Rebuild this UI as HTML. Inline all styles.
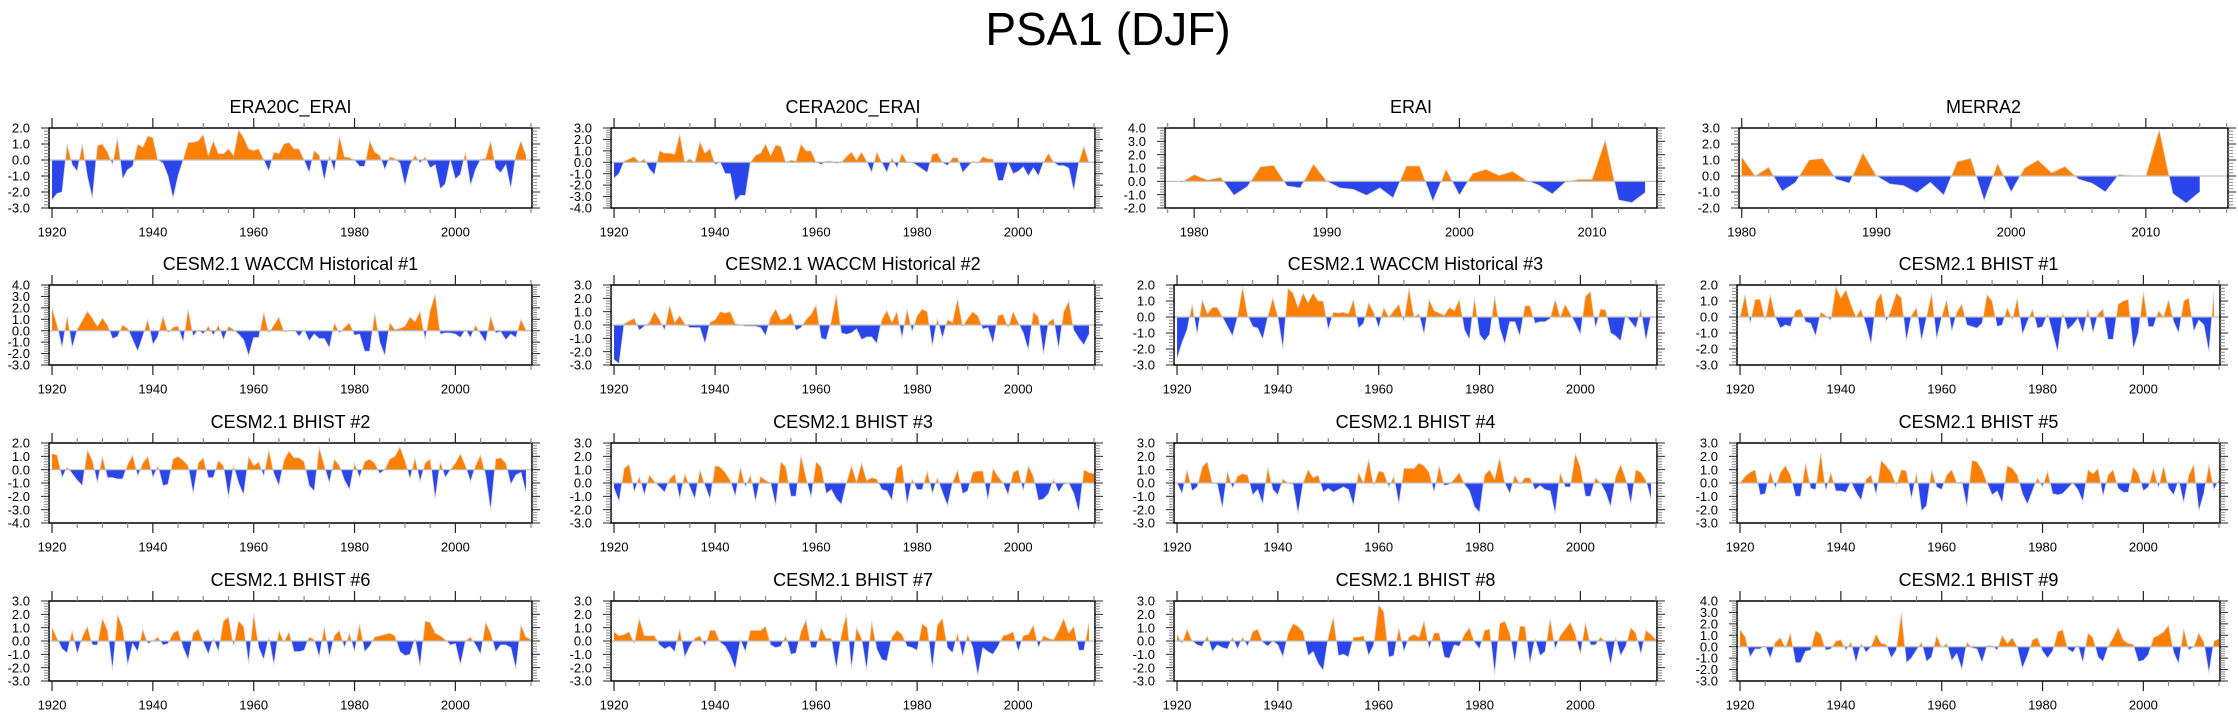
<!DOCTYPE html>
<html>
<head>
<meta charset="utf-8">
<style>
html,body{margin:0;padding:0;background:#fff;}
#wrap{position:relative;width:2238px;height:719px;overflow:hidden;}
svg text{font-family:"Liberation Sans",sans-serif;fill:#000;}
</style>
</head>
<body>
<div id="wrap">
<svg id="fig" width="2238" height="719" viewBox="0 0 2238 719" xmlns="http://www.w3.org/2000/svg">
<text x="1108" y="45" font-size="46" text-anchor="middle">PSA1 (DJF)</text>
</svg>
</div>
<script>
// ---- data (annual DJF PSA1 index) ----
const startYearLong = 1920;
const startYearERAI = 1979;
const startYearMERRA2 = 1980;
const yearTickLabelsLong = [1920, 1940, 1960, 1980, 2000];
const yearTickLabelsShort = [1980, 1990, 2000, 2010];

const era20cValues = [-2.5,-2.1,-2.0,1.0,-0.3,-0.7,1.0,-1.0,-2.4,0.9,1.0,0.5,-0.3,1.4,-1.2,-0.6,-0.4,1.0,0.8,1.5,1.4,0.0,-0.2,-1.0,-2.4,-1.0,0.0,1.1,1.1,1.2,1.6,0.3,1.2,0.4,0.4,0.7,0.3,1.9,1.4,0.7,0.6,0.7,0.0,-0.7,0.5,0.4,1.0,1.1,0.7,0.7,0.0,-0.8,0.6,0.3,-1.3,0.3,-0.7,1.5,0.2,0.15,0.0,-0.4,-0.4,1.2,0.5,0.3,-0.6,0.2,0.1,-0.2,-1.6,-0.3,0.3,-0.2,0.2,-0.5,-0.3,-1.8,-1.5,0.0,-1.2,-0.9,0.5,-1.6,-0.6,0.05,0.1,1.2,-0.5,-0.8,-0.3,-1.8,0.3,1.2,0.3];
const cera20cValues = [-1.4,-1.0,0.1,0.3,0.5,0.0,0.3,-0.6,-1.1,1.0,0.8,0.8,0.7,2.5,0.0,0.3,0.0,1.8,0.8,1.2,-0.2,0.0,-1.0,-1.0,-3.4,-2.9,-2.9,0.0,0.6,0.8,1.6,0.6,1.5,1.4,0.0,0.2,0.1,1.6,1.0,1.0,0.0,-0.2,0.1,0.1,-0.1,0.0,0.5,0.9,0.2,0.9,0.1,-0.9,0.9,0.0,-0.9,0.4,-0.5,0.8,0.0,0.0,-0.3,-0.6,-0.9,0.7,0.8,0.0,-0.3,0.4,0.4,-0.9,-0.4,0.1,-0.1,0.5,0.3,0.3,-1.6,-1.6,0.0,-1.0,-0.8,-0.4,-1.2,-0.5,-1.2,0.0,0.8,0.0,-0.3,-0.3,-0.5,-2.5,0.0,1.4,0.0];
const eraiValues = [-0.1,0.5,0.1,0.3,-1.05,-0.4,1.1,1.2,-0.35,-0.5,1.3,0.0,-0.5,-0.6,-1.05,-0.5,-1.25,1.15,1.15,-1.5,0.9,-1.05,0.6,0.9,0.45,0.75,0.1,-0.3,-0.95,-0.05,0.15,0.15,3.1,-1.4,-1.6,-0.85];
const merra2Values = [1.2,0.0,0.55,-0.95,-0.4,1.0,1.1,-0.2,-0.45,1.45,0.0,-0.5,-0.6,-1.05,-0.4,-1.2,0.9,1.1,-1.55,0.8,-1.0,0.5,1.0,0.2,0.6,-0.2,-0.45,-1.0,0.1,0.0,0.0,2.9,-1.1,-1.7,-1.0];
const waccm1Values = [2.0,0.5,-1.5,1.3,-1.5,0.1,0.9,1.7,1.1,0.4,1.1,0.5,-0.7,-0.5,0.5,0.2,-0.8,-1.8,-0.5,1.0,-1.2,-0.5,1.3,-0.2,0.3,0.4,-1.0,1.9,-0.5,0.1,-0.3,0.4,-0.4,0.5,-0.8,0.4,0.1,-0.3,-0.8,-2.2,-0.6,-0.6,1.6,-0.2,0.5,1.2,-0.1,0.0,0.1,-0.5,0.1,-0.9,-0.3,-0.7,-0.7,-1.5,0.7,-0.2,0.3,0.7,-0.4,-0.3,-1.8,-1.8,1.6,-1.0,-2.2,0.7,0.1,0.2,0.4,1.2,0.8,1.7,-0.8,1.8,3.2,-0.3,-0.2,-0.2,-0.3,-0.6,0.1,-0.6,0.5,-0.3,-1.0,1.3,-0.2,-0.1,-0.8,-0.3,-0.6,1.0,0.1];
const waccm2Values = [-2.6,-2.9,0.1,0.3,0.5,-0.4,-0.1,0.2,1.0,0.4,-0.4,1.5,0.2,0.7,0.1,-0.2,-0.2,-0.2,-1.4,0.2,0.4,1.0,0.9,1.0,0.1,0.0,-0.1,-0.1,-0.1,-0.2,-0.8,0.6,1.2,0.4,0.5,0.9,-0.4,-0.2,0.4,0.8,1.5,-1.0,-1.1,0.3,2.3,-0.6,-0.7,-0.6,-0.3,-1.1,-0.9,-0.9,-1.4,0.4,1.1,0.2,1.0,-1.0,1.2,-0.5,0.7,1.2,1.0,-1.6,0.5,-1.0,0.4,0.2,2.0,-0.1,0.5,1.0,0.7,-0.3,-0.2,-1.4,0.7,0.8,-0.2,1.0,0.2,-0.6,-1.9,1.0,0.6,-2.2,0.2,0.5,-1.8,1.0,1.8,-0.4,-1.0,-1.5,-0.7];
const waccm3Values = [-2.6,-1.6,-0.8,0.8,-1.1,1.1,0.2,0.6,0.6,0.0,-0.6,-1.2,0.0,1.9,0.1,-0.6,-0.7,-1.4,0.0,1.2,0.0,-2.0,1.8,1.5,0.6,1.5,0.9,1.5,1.0,1.0,-0.8,0.3,0.25,0.3,0.2,1.1,-0.7,-0.4,0.9,0.3,-0.7,0.6,0.0,0.4,0.8,-0.3,1.8,0.0,0.2,-1.1,1.1,0.4,0.25,0.1,0.6,0.4,1.1,-0.8,-1.4,1.2,-1.1,-1.5,-1.1,1.3,-0.7,-1.7,-0.3,-0.3,-1.2,0.7,0.7,-0.4,-0.3,-0.3,-0.1,1.1,0.0,0.8,0.2,-0.4,-1.1,1.3,1.6,-0.7,0.5,0.45,-1.0,-1.2,-1.5,0.1,-0.3,-0.7,0.5,-1.5,0.1];
const bhist1Values = [0.0,1.4,-0.4,1.1,1.1,-0.2,1.4,0.0,-0.7,-0.5,-0.6,0.4,0.5,-0.3,-0.4,-1.2,0.3,0.1,-0.2,1.9,1.2,1.7,0.8,0.0,0.5,-0.5,-1.7,1.0,1.5,-0.3,0.5,1.5,1.2,-1.5,0.1,0.6,-1.5,0.0,1.5,-1.4,0.0,1.1,-0.9,0.3,0.8,-0.5,-0.6,-0.7,-0.4,1.4,1.0,-0.6,-0.5,0.6,-0.2,1.2,-1.1,-0.3,0.5,-0.7,-0.6,0.2,-1.0,-2.2,0.3,-0.8,-0.5,-0.1,-1.0,0.5,-1.0,0.2,0.5,-1.4,-1.4,0.8,1.0,1.1,-2.0,-1.0,1.6,-0.6,-0.6,0.4,0.0,1.1,-0.3,-1.0,1.0,1.2,-0.9,-0.2,-0.5,-2.2,1.6];
const bhist2Values = [1.2,1.1,-0.6,0.2,-0.3,-0.8,-1.2,1.5,0.7,-1.0,1.0,-0.6,-0.6,-0.7,-0.7,0.4,1.1,-0.5,0.5,1.0,-0.6,0.3,-1.2,-1.1,0.8,1.0,0.7,0.3,-1.8,0.5,0.9,-0.6,-0.6,0.7,0.3,-2.1,0.3,-1.0,-1.9,1.0,0.3,0.6,-0.5,1.5,-0.3,-1.2,0.7,1.4,0.9,0.9,0.6,-1.2,-1.6,1.7,0.3,-1.0,0.8,0.3,-0.8,-1.5,0.5,-0.6,0.6,0.8,0.5,-0.3,0.0,0.8,1.0,1.7,0.7,-0.7,0.9,-0.9,0.5,0.8,-2.2,0.6,-0.6,0.0,0.5,1.2,0.3,-0.9,0.3,1.1,-0.4,-3.1,0.8,0.9,0.5,-1.1,-0.4,-0.2,-1.7];
const bhist3Values = [-0.4,-1.4,1.1,1.4,-0.7,0.5,-0.9,0.6,0.1,-0.3,-0.7,0.3,0.7,-1.2,0.7,-0.3,-1.2,1.0,-0.2,-1.2,1.3,1.2,0.8,0.2,-1.0,1.2,-0.3,0.6,-1.4,0.5,0.2,0.0,-1.7,1.6,1.2,-1.0,-1.0,2.1,0.4,-1.1,1.6,1.2,-0.8,-0.5,-1.2,-1.6,0.0,1.3,0.1,1.5,0.2,0.4,0.3,-0.5,-0.6,-1.3,1.1,1.4,-1.6,0.3,-0.5,-0.5,0.9,-0.8,0.4,-0.7,-1.7,0.0,1.0,-0.8,-0.6,0.8,0.9,0.9,-1.3,1.1,0.5,0.0,-0.9,0.8,1.0,-0.6,1.3,0.5,-1.3,-1.2,-0.8,0.3,-0.7,-0.1,0.0,-0.8,-2.2,1.0,0.8,0.7];
const bhist4Values = [0.0,-0.8,1.0,-0.6,-0.3,1.2,1.6,0.0,-0.1,-1.9,0.9,-0.4,0.5,0.7,0.6,-0.9,-0.5,-1.6,1.2,-0.5,-0.9,0.3,0.0,-0.1,-2.3,0.0,1.0,0.4,0.6,-0.7,-0.4,-0.7,-0.5,-0.3,-0.5,-1.7,0.8,0.0,1.8,-0.2,0.9,0.8,-0.3,0.5,-1.6,1.1,1.1,1.1,1.5,1.3,0.8,-0.7,1.3,-0.2,-0.1,0.3,0.8,-0.1,-0.6,-1.8,-2.2,0.6,1.0,0.3,1.9,0.0,-0.8,0.6,-0.1,0.4,0.4,-0.5,-0.2,-0.5,-0.6,-2.3,0.8,-0.3,-0.3,2.2,1.2,-1.0,-1.0,0.4,0.0,-0.7,-1.8,0.5,1.4,0.3,-1.6,1.0,0.8,0.2,-1.2];
const bhist5Values = [0.0,0.5,0.8,1.0,-0.9,-0.8,0.9,-0.4,0.8,1.3,0.6,-1.0,-1.0,1.5,-0.4,-0.5,2.3,-0.6,0.8,-0.6,-0.6,-0.7,0.1,-0.7,-1.3,0.3,0.6,-0.9,1.7,1.3,0.8,-0.2,1.0,0.9,-1.2,0.8,-2.1,-1.7,1.0,-0.3,-0.5,0.6,1.0,0.0,0.1,-1.8,1.7,1.6,1.0,0.0,-0.9,-0.6,-1.5,1.3,1.1,0.6,-0.8,-1.6,-0.6,0.4,-0.3,0.9,-0.8,-0.9,-0.8,-0.4,0.0,-0.5,-1.4,1.0,0.7,1.1,-1.0,0.6,1.0,-0.4,-0.7,-0.7,1.2,0.7,-0.6,-0.3,1.1,-0.4,1.3,-0.4,-0.9,0.2,-1.5,0.6,1.4,-2.1,-0.8,1.4,-0.5,0.3];
const bhist6Values = [1.0,0.2,-0.6,-0.9,0.8,-1.0,0.3,1.1,-0.3,-0.3,1.7,0.8,-2.2,2.0,1.0,-1.8,-0.2,-0.8,0.9,-0.2,0.0,0.3,-0.3,-0.2,0.6,0.8,-0.5,-1.4,0.6,0.9,-0.1,-1.0,0.2,-0.8,1.5,1.8,-0.4,1.5,1.1,-1.7,2.1,-0.5,-1.4,0.3,-1.8,0.8,-0.1,0.7,-0.8,-0.8,-0.7,0.3,0.1,-1.2,1.1,-1.2,0.4,0.8,-0.5,0.6,-0.8,1.3,-0.8,-0.4,0.3,0.4,0.5,0.6,0.4,-0.8,-1.1,-1.0,0.2,-1.9,1.5,1.4,0.6,0.4,0.1,-0.3,-0.2,-1.8,0.0,0.3,-0.3,-1.0,1.4,0.6,-0.8,-0.3,-0.3,-0.5,-2.1,1.2,0.3,0.1];
const bhist7Values = [0.7,0.4,0.5,0.7,-0.2,1.7,0.4,0.4,0.4,-0.3,-0.6,-0.4,-0.8,0.9,-1.2,-0.4,0.2,0.4,-0.4,0.8,0.8,-0.1,-0.4,-1.1,-2.1,0.1,-0.8,0.8,0.8,0.8,1.1,-0.3,-0.5,-0.4,0.4,-1.0,-0.9,0.7,1.6,-0.5,-0.5,1.0,0.2,0.2,-2.1,0.5,2.0,-2.1,1.0,0.2,-2.2,1.5,-0.6,-1.4,-1.5,0.3,0.8,0.5,-0.4,-0.5,-0.7,1.3,1.0,-2.1,1.2,1.7,-0.5,-0.9,0.6,-1.2,0.5,-0.5,-2.6,-0.5,-0.8,-1.0,-0.4,0.4,0.5,0.7,-0.8,0.4,0.5,1.2,-0.5,0.4,0.2,0.1,0.8,1.7,0.6,1.1,-0.7,-0.7,1.4];
const bhist8Values = [0.5,-0.2,0.9,0.0,-0.3,-0.4,0.4,-0.8,-0.3,-0.5,-0.6,0.3,-0.6,0.3,-0.4,0.7,0.9,-0.1,-0.4,0.0,-0.3,-1.2,0.5,1.3,1.1,0.7,-1.1,-0.8,-1.7,-2.2,0.3,1.8,-1.1,-1.0,-1.2,0.3,0.3,0.4,-1.1,-0.3,2.7,2.2,-1.2,-1.1,1.0,-0.8,0.3,0.5,0.3,1.5,-0.6,0.6,0.6,-1.2,-1.3,-0.3,-0.4,0.5,1.0,-0.1,-0.6,0.8,0.9,-2.5,1.3,1.5,0.6,-1.6,1.1,1.1,-1.7,0.2,-1.1,-0.8,1.7,-0.6,0.4,0.9,1.4,0.5,-1.0,1.4,-0.3,-0.3,0.3,-0.1,-1.8,0.3,-1.1,-0.4,1.0,0.6,-1.0,0.8,0.5,0.1];
const bhist9Values = [1.5,0.9,-0.9,-0.2,-0.2,0.1,-1.0,0.4,0.8,-0.1,1.2,-1.4,-1.4,-0.4,-0.3,1.4,1.1,-0.3,-0.2,0.5,0.6,-0.3,0.4,-1.4,0.3,-0.5,0.0,1.1,0.3,0.2,-1.0,-0.3,3.0,-1.4,-1.0,-0.3,0.4,-1.3,-0.9,1.0,-0.1,0.3,-1.2,-0.6,-2.0,0.4,-0.1,-0.2,-1.4,0.1,0.1,-0.3,1.0,0.3,0.8,0.0,-1.9,-0.8,0.6,0.8,-0.4,-1.0,-0.4,1.3,1.5,-0.2,-0.5,0.2,-1.4,1.2,0.8,-0.9,-1.3,0.0,0.8,1.7,0.6,0.3,0.2,-1.3,-1.2,-0.7,0.8,1.0,1.3,1.9,-0.5,-1.5,1.6,-0.3,0.0,1.2,0.4,-2.3,0.5,0.7];

// ---- layout ----
const NS = 'http://www.w3.org/2000/svg';
const svg = document.getElementById('fig');
const rowTops = [128, 285, 443, 601];
const BOX_H = 80;
const colL = [49, 611, 1174, 1737];
const colR = [532, 1095, 1657, 2220];
const longX0 = 1919.4, longX1 = 2015.2;

const panels = [
  {key:'era20c-erai', title:'ERA20C_ERAI', vals:era20cValues, start:startYearLong, ymin:-3, ymax:2, r:0, c:0},
  {key:'cera20c-erai', title:'CERA20C_ERAI', vals:cera20cValues, start:startYearLong, ymin:-4, ymax:3, r:0, c:1},
  {key:'erai', title:'ERAI', vals:eraiValues, start:startYearERAI, ymin:-2, ymax:4, r:0, c:2, left:1165, right:1657, x0:1977.8, x1:2014.9, short:true},
  {key:'merra2', title:'MERRA2', vals:merra2Values, start:startYearMERRA2, ymin:-2, ymax:3, r:0, c:3, left:1739, right:2228, x0:1979.8, x1:2016.1, short:true},
  {key:'waccm-hist-1', title:'CESM2.1 WACCM Historical #1', vals:waccm1Values, start:startYearLong, ymin:-3, ymax:4, r:1, c:0},
  {key:'waccm-hist-2', title:'CESM2.1 WACCM Historical #2', vals:waccm2Values, start:startYearLong, ymin:-3, ymax:3, r:1, c:1},
  {key:'waccm-hist-3', title:'CESM2.1 WACCM Historical #3', vals:waccm3Values, start:startYearLong, ymin:-3, ymax:2, r:1, c:2},
  {key:'bhist-1', title:'CESM2.1 BHIST #1', vals:bhist1Values, start:startYearLong, ymin:-3, ymax:2, r:1, c:3},
  {key:'bhist-2', title:'CESM2.1 BHIST #2', vals:bhist2Values, start:startYearLong, ymin:-4, ymax:2, r:2, c:0},
  {key:'bhist-3', title:'CESM2.1 BHIST #3', vals:bhist3Values, start:startYearLong, ymin:-3, ymax:3, r:2, c:1},
  {key:'bhist-4', title:'CESM2.1 BHIST #4', vals:bhist4Values, start:startYearLong, ymin:-3, ymax:3, r:2, c:2},
  {key:'bhist-5', title:'CESM2.1 BHIST #5', vals:bhist5Values, start:startYearLong, ymin:-3, ymax:3, r:2, c:3},
  {key:'bhist-6', title:'CESM2.1 BHIST #6', vals:bhist6Values, start:startYearLong, ymin:-3, ymax:3, r:3, c:0},
  {key:'bhist-7', title:'CESM2.1 BHIST #7', vals:bhist7Values, start:startYearLong, ymin:-3, ymax:3, r:3, c:1},
  {key:'bhist-8', title:'CESM2.1 BHIST #8', vals:bhist8Values, start:startYearLong, ymin:-3, ymax:3, r:3, c:2},
  {key:'bhist-9', title:'CESM2.1 BHIST #9', vals:bhist9Values, start:startYearLong, ymin:-3, ymax:4, r:3, c:3}
];

function mk(tag, attrs, parent){
  const e = document.createElementNS(NS, tag);
  for (const k in attrs) e.setAttribute(k, attrs[k]);
  (parent || svg).appendChild(e);
  return e;
}
function line(g, x1, y1, x2, y2, col, w){
  const l = mk('line', {x1:x1, y1:y1, x2:x2, y2:y2, stroke:col, 'stroke-width':w}, g);
  
  
  return l;
}

panels.forEach(function(p, idx){
  const top = rowTops[p.r];
  const bottom = top + BOX_H;
  const left = p.left !== undefined ? p.left : colL[p.c];
  const right = p.right !== undefined ? p.right : colR[p.c];
  const x0 = p.x0 !== undefined ? p.x0 : longX0;
  const x1 = p.x1 !== undefined ? p.x1 : longX1;
  const xs = function(yr){ return left + (yr - x0) / (x1 - x0) * (right - left); };
  const ys = function(v){ return top + (p.ymax - v) / (p.ymax - p.ymin) * BOX_H; };
  const y0 = ys(0);

  const g = mk('g', {});
  
  

  // title
  const t = mk('text', {x:(left + right) / 2, y:top - 15, 'font-size':18, 'text-anchor':'middle'}, g);
  t.textContent = p.title;
  
  

  // clip paths
  const defs = mk('defs', {}, g);
  const cpA = mk('clipPath', {id:'pos' + idx}, defs);
  mk('rect', {x:left, y:top, width:right - left, height:y0 - top}, cpA);
  const cpB = mk('clipPath', {id:'neg' + idx}, defs);
  mk('rect', {x:left, y:y0, width:right - left, height:bottom - y0}, cpB);

  // area path from data
  let d = 'M' + xs(p.start).toFixed(2) + ',' + y0.toFixed(2);
  let ln = '';
  p.vals.forEach(function(v, i){
    const X = xs(p.start + i).toFixed(2), Y = ys(v).toFixed(2);
    d += ' L' + X + ',' + Y;
    ln += (i ? ' L' : 'M') + X + ',' + Y;
  });
  d += ' L' + xs(p.start + p.vals.length - 1).toFixed(2) + ',' + y0.toFixed(2) + ' Z';

  const aPos = mk('path', {d:d, fill:'#FF8000', 'clip-path':'url(#pos' + idx + ')'}, g);
  
  
  const aNeg = mk('path', {d:d, fill:'#2A46EB', 'clip-path':'url(#neg' + idx + ')'}, g);
  
  
  const curve = mk('path', {d:ln, fill:'none', stroke:'#d8d8d8', 'stroke-width':0.8}, g);
  
  

  // zero line
  const zl = mk('line', {x1:left, x2:right, y1:y0, y2:y0, stroke:'#bdbdbd', 'stroke-width':1.2}, g);
  
  

  // frame
  const box = mk('rect', {x:left, y:top, width:right - left, height:BOX_H, fill:'none', stroke:'#000', 'stroke-width':1.5}, g);
  
  

  // y ticks
  for (let k = Math.round(p.ymin * 5); k <= Math.round(p.ymax * 5); k++){
    const v = k / 5, yy = ys(v);
    const major = (k % 5 === 0);
    const len = major ? 8 : 5;
    const col = major ? '#222' : '#888';
    line(g, left - len, yy, left, yy, col, 1);
    line(g, right, yy, right + len, yy, col, 1);
    if (major){
      const lab = mk('text', {x:left - 19, y:yy + 4.6, 'font-size':13, 'text-anchor':'end'}, g);
      lab.textContent = v.toFixed(1);
      
      
    }
  }

  // x ticks
  const labels = p.short ? yearTickLabelsShort : yearTickLabelsLong;
  const majorStep = p.short ? 10 : 20;
  const minorStep = p.short ? 2 : 5;
  for (let yr = Math.ceil(x0 / minorStep) * minorStep; yr <= x1; yr += minorStep){
    const xx = xs(yr);
    const major = (yr % majorStep === 0);
    const len = major ? 10 : 5;
    const col = major ? '#222' : '#888';
    line(g, xx, top - len, xx, top, col, 1.2);
    line(g, xx, bottom, xx, bottom + len, col, 1.2);
  }
  labels.forEach(function(yr){
    const lab = mk('text', {x:xs(yr), y:bottom + 28.5, 'font-size':13, 'text-anchor':'middle'}, g);
    lab.textContent = String(yr);
    
    
  });
});
</script>
</body>
</html>
